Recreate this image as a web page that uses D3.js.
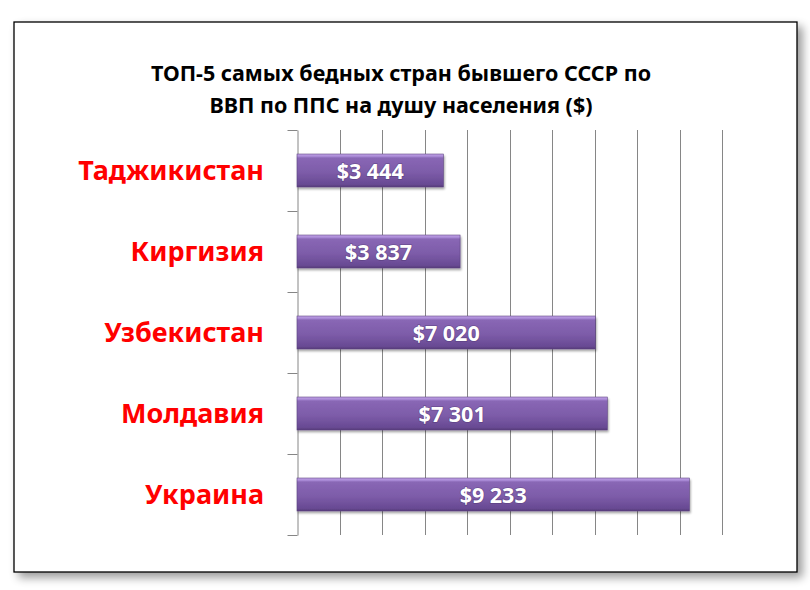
<!DOCTYPE html>
<html>
<head>
<meta charset="utf-8">
<title>ТОП-5</title>
<script src="https://cdn.jsdelivr.net/npm/d3@7"></script>
<style>
    body { margin: 0; background: #fff; }
    .grid line { stroke: #868686; stroke-width: 1px; }
    .title { font-family: "Noto Sans", "DejaVu Sans", sans-serif; font-weight: bold; font-size: 21.5px; fill: #000; }
    .cat { font-family: "Noto Sans", "DejaVu Sans", sans-serif; font-weight: bold; font-size: 27px; fill: #ff0000; }
    .val { font-family: "Noto Sans", "DejaVu Sans", sans-serif; font-weight: bold; font-size: 21.5px; fill: #fff; }
</style>
</head>
<body>
<script>
    // data
    let countries = ["Таджикистан", "Киргизия", "Узбекистан", "Молдавия", "Украина"];
    let gdp = [3444, 3837, 7020, 7301, 9233];
    let valueLabels = ["$3 444", "$3 837", "$7 020", "$7 301", "$9 233"];
    let titleLines = ["ТОП-5 самых бедных стран бывшего СССР по", "ВВП по ППС на душу населения ($)"];
    let xMax = 10000;
    let xStep = 1000;

    let width = 810;
    let height = 590;
    let plot = { left: 297, right: 722, top: 130, bottom: 535 };

    let data = countries.map((c, i) => ({ country: c, value: gdp[i], label: valueLabels[i] }));

    let svg = d3.select("body").append("svg")
        .attr("width", width)
        .attr("height", height);

    let defs = svg.append("defs");

    let shadow = defs.append("filter").attr("id", "frameShadow")
        .attr("x", "-5%").attr("y", "-5%").attr("width", "115%").attr("height", "115%");
    shadow.append("feGaussianBlur").attr("in", "SourceAlpha").attr("stdDeviation", 5);
    shadow.append("feOffset").attr("dx", 5).attr("dy", 5).attr("result", "blur");
    shadow.append("feComponentTransfer").append("feFuncA").attr("type", "linear").attr("slope", 0.4);
    let m1 = shadow.append("feMerge");
    m1.append("feMergeNode");
    m1.append("feMergeNode").attr("in", "SourceGraphic");

    let barShadow = defs.append("filter").attr("id", "barShadow")
        .attr("x", "-5%").attr("y", "-20%").attr("width", "110%").attr("height", "150%");
    barShadow.append("feGaussianBlur").attr("in", "SourceAlpha").attr("stdDeviation", 1.2);
    barShadow.append("feOffset").attr("dx", 1).attr("dy", 2);
    barShadow.append("feComponentTransfer").append("feFuncA").attr("type", "linear").attr("slope", 0.35);
    let m2 = barShadow.append("feMerge");
    m2.append("feMergeNode");
    m2.append("feMergeNode").attr("in", "SourceGraphic");

    let grad = defs.append("linearGradient").attr("id", "barGrad")
        .attr("x1", 0).attr("y1", 0).attr("x2", 0).attr("y2", 1);
    grad.append("stop").attr("offset", "0%").attr("stop-color", "#c4a6ea");
    grad.append("stop").attr("offset", "8%").attr("stop-color", "#a585d2");
    grad.append("stop").attr("offset", "12%").attr("stop-color", "#8967b5");
    grad.append("stop").attr("offset", "55%").attr("stop-color", "#7d5ca9");
    grad.append("stop").attr("offset", "92%").attr("stop-color", "#684a93");
    grad.append("stop").attr("offset", "100%").attr("stop-color", "#553b78");

    // outer frame
    svg.append("rect")
        .attr("x", 14).attr("y", 22)
        .attr("width", 783).attr("height", 550)
        .attr("fill", "#fff")
        .attr("stroke", "#000")
        .attr("stroke-width", 1.3)
        .attr("filter", "url(#frameShadow)");

    // title
    svg.selectAll("text.title")
        .data(titleLines)
        .join("text")
        .attr("class", "title")
        .attr("x", 401)
        .attr("y", (d, i) => 81 + i * 32)
        .attr("text-anchor", "middle")
        .text(d => d);

    let x_scale = d3.scaleLinear()
        .domain([0, xMax])
        .range([plot.left, plot.right]);

    let y_scale = d3.scaleBand()
        .domain(countries)
        .range([plot.top, plot.bottom])
        .paddingInner(0.593)
        .paddingOuter(0.2965);

    // vertical gridlines
    let gridTicks = d3.range(xStep, xMax + 1, xStep);
    svg.append("g")
        .attr("class", "grid")
        .selectAll("line")
        .data(gridTicks)
        .join("line")
        .attr("x1", d => Math.round(x_scale(d)) + 0.5)
        .attr("x2", d => Math.round(x_scale(d)) + 0.5)
        .attr("y1", plot.top)
        .attr("y2", plot.bottom);

    // category axis: vertical line and ticks at band boundaries
    let y_axis = d3.axisLeft(y_scale).tickSize(0).tickFormat("");
    let axisG = svg.append("g")
        .attr("class", "grid")
        .attr("transform", "translate(" + (plot.left + 0.5) + ",0)")
        .call(y_axis);
    axisG.select(".domain").attr("stroke", "#868686").attr("stroke-width", 1);

    let step = y_scale.step();
    let bounds = d3.range(countries.length + 1).map(i => plot.top + i * step);
    axisG.selectAll("line.sep")
        .data(bounds)
        .join("line")
        .attr("class", "sep")
        .attr("x1", -10).attr("x2", 0)
        .attr("y1", d => Math.round(d) + 0.5)
        .attr("y2", d => Math.round(d) + 0.5)
        .attr("stroke", "#868686");

    // category labels
    svg.selectAll("text.cat")
        .data(data)
        .join("text")
        .attr("class", "cat")
        .attr("x", 264)
        .attr("y", d => y_scale(d.country) + y_scale.bandwidth() / 2)
        .attr("dy", "0.36em")
        .attr("text-anchor", "end")
        .text(d => d.country);

    // bars
    svg.append("g")
        .selectAll("rect")
        .data(data)
        .join("rect")
        .attr("x", x_scale(0))
        .attr("y", d => y_scale(d.country))
        .attr("width", d => x_scale(d.value) - x_scale(0))
        .attr("height", y_scale.bandwidth())
        .attr("fill", "url(#barGrad)")
        .attr("stroke", "#5c4380")
        .attr("stroke-width", 0.6)
        .attr("filter", "url(#barShadow)");

    // value labels
    svg.selectAll("text.val")
        .data(data)
        .join("text")
        .attr("class", "val")
        .attr("x", d => (x_scale(0) + x_scale(d.value)) / 2)
        .attr("y", d => y_scale(d.country) + y_scale.bandwidth() / 2 + 1)
        .attr("dy", "0.36em")
        .attr("text-anchor", "middle")
        .style("paint-order", "stroke")
        .style("stroke", "rgba(60,40,90,0.35)")
        .style("stroke-width", "1.5px")
        .text(d => d.label);
</script>
</body>
</html>
